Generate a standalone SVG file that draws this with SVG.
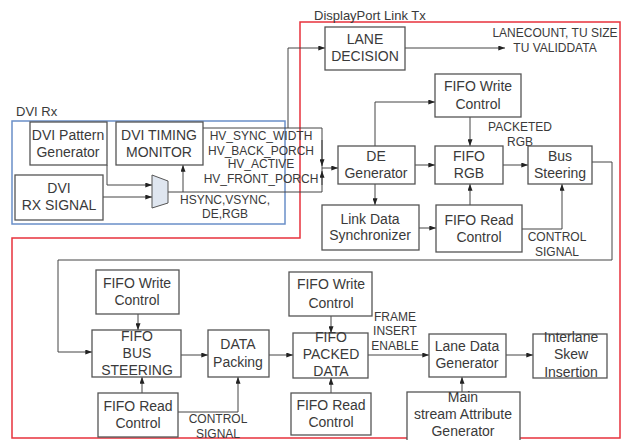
<svg xmlns="http://www.w3.org/2000/svg" width="628" height="440" viewBox="0 0 628 440">
<style>
.box{fill:#fff;stroke:#555;stroke-width:1.3}
.t{font-family:"Liberation Sans",Arial,sans-serif;font-size:14px;fill:#3a3a3a;text-anchor:middle}
.s{font-family:"Liberation Sans",Arial,sans-serif;font-size:12px;fill:#3a3a3a;text-anchor:middle}
.l{font-family:"Liberation Sans",Arial,sans-serif;font-size:13px;fill:#3a3a3a}
.c{fill:none;stroke:#444;stroke-width:1}
.a{marker-end:url(#ah)}
</style>
<defs>
<marker id="ah" viewBox="0 0 8 6" refX="8" refY="3" markerWidth="7" markerHeight="5" orient="auto" markerUnits="userSpaceOnUse">
<path d="M0,0 L8,3 L0,6 Z" fill="#222"/>
</marker>
</defs>
<rect width="628" height="440" fill="#fff"/>
<g id="regions">
<rect x="12" y="121" width="273" height="103" fill="none" stroke="#6a8fc8" stroke-width="1.5"/>
<text class="l" x="16" y="116">DVI Rx</text>
<path d="M300,238 V22 H620 V438 H12 V238 Z" fill="none" stroke="#e8323c" stroke-width="1.5"/>
<text class="l" x="314" y="20">DisplayPort Link Tx</text>
</g>
<g id="connectors">
<path class="c a" d="M107,165 V185 H152"/>
<path class="c a" d="M103,197 H152"/>
<path class="c" d="M168,192 H322 V128 H203"/>
<path class="c a" d="M183,192 V165"/>
<path class="c a" d="M322,140 V166"/>
<path class="c a" d="M322,185 V171"/>
<path class="c a" d="M322,168 H338"/>
<path class="c a" d="M288,128 V48 H325"/>
<path class="c a" d="M405,48 H505"/>
<path class="c a" d="M375,146 V102 H435"/>
<path class="c a" d="M470,117 V146"/>
<path class="c a" d="M415,165 H435"/>
<path class="c a" d="M503,165 H528"/>
<path class="c a" d="M375,184 V205"/>
<path class="c a" d="M419,228 H436"/>
<path class="c a" d="M470,205 V184"/>
<path class="c a" d="M522,229 H562 V184"/>
<path class="c a" d="M592,162 H612 V260 H58 V352 H92"/>
<path class="c a" d="M138,314 V330"/>
<path class="c a" d="M142,393 V377"/>
<path class="c a" d="M181,355 H208"/>
<path class="c a" d="M178,412 H238 V377"/>
<path class="c a" d="M269,355 H293"/>
<path class="c a" d="M331,316 V333"/>
<path class="c a" d="M331,393 V378"/>
<path class="c a" d="M368,355 H429"/>
<path class="c a" d="M506,355 H533"/>
<path class="c a" d="M462,392 V377"/>
</g>
<g id="labels">
<text class="s" x="261" y="140">HV_SYNC_WIDTH</text>
<text class="s" x="261" y="155">HV_BACK_PORCH</text>
<text class="s" x="261" y="168">HV_ACTIVE</text>
<text class="s" x="261" y="183">HV_FRONT_PORCH</text>
<text class="s" x="225" y="204">HSYNC,VSYNC,</text>
<text class="s" x="225" y="218">DE,RGB</text>
<text class="s" x="555" y="37">LANECOUNT, TU SIZE</text>
<text class="s" x="555" y="52">TU VALIDDATA</text>
<text class="s" x="520" y="131">PACKETED</text>
<text class="s" x="520" y="146">RGB</text>
<text class="s" x="557" y="241">CONTROL</text>
<text class="s" x="557" y="256">SIGNAL</text>
<text class="s" x="218" y="423">CONTROL</text>
<text class="s" x="218" y="438">SIGNAL</text>
<text class="s" x="395" y="321">FRAME</text>
<text class="s" x="395" y="335">INSERT</text>
<text class="s" x="395" y="350">ENABLE</text>
</g>
<g id="mux">
<path d="M152,175 L168,181 L168,203 L152,208 Z" fill="#dfe6f0" stroke="#555" stroke-width="1"/>
</g>
<g id="dvi-pattern"><rect class="box" x="30" y="122" width="77" height="43"/><text class="t" x="68" y="140">DVI Pattern</text><text class="t" x="68" y="157">Generator</text></g>
<g id="dvi-timing"><rect class="box" x="116" y="122" width="87" height="43"/><text class="t" x="159" y="140">DVI TIMING</text><text class="t" x="159" y="157">MONITOR</text></g>
<g id="dvi-rx"><rect class="box" x="15" y="175" width="88" height="45"/><text class="t" x="59" y="193">DVI</text><text class="t" x="59" y="210">RX SIGNAL</text></g>
<g id="lane-decision"><rect class="box" x="325" y="27" width="80" height="43"/><text class="t" x="365" y="44">LANE</text><text class="t" x="365" y="61">DECISION</text></g>
<g id="fifo-write-1"><rect class="box" x="435" y="74" width="86" height="43"/><text class="t" x="478" y="91">FIFO Write</text><text class="t" x="478" y="109">Control</text></g>
<g id="de-gen"><rect class="box" x="338" y="146" width="77" height="38"/><text class="t" x="376" y="161">DE</text><text class="t" x="376" y="178">Generator</text></g>
<g id="fifo-rgb"><rect class="box" x="435" y="146" width="68" height="38"/><text class="t" x="469" y="161">FIFO</text><text class="t" x="469" y="178">RGB</text></g>
<g id="bus-steering"><rect class="box" x="528" y="146" width="64" height="38"/><text class="t" x="560" y="161">Bus</text><text class="t" x="560" y="178">Steering</text></g>
<g id="link-data"><rect class="box" x="322" y="205" width="97" height="45"/><text class="t" x="370" y="224">Link Data</text><text class="t" x="370" y="240">Synchronizer</text></g>
<g id="fifo-read-1"><rect class="box" x="436" y="205" width="86" height="47"/><text class="t" x="479" y="225">FIFO Read</text><text class="t" x="479" y="242">Control</text></g>
<g id="fifo-write-2"><rect class="box" x="96" y="270" width="83" height="44"/><text class="t" x="137" y="288">FIFO Write</text><text class="t" x="137" y="305">Control</text></g>
<g id="fifo-bus"><rect class="box" x="92" y="330" width="89" height="47"/><text class="t" x="137" y="341">FIFO</text><text class="t" x="137" y="358">BUS</text><text class="t" x="137" y="375">STEERING</text></g>
<g id="fifo-read-2"><rect class="box" x="98" y="393" width="80" height="44"/><text class="t" x="138" y="411">FIFO Read</text><text class="t" x="138" y="428">Control</text></g>
<g id="data-packing"><rect class="box" x="208" y="330" width="61" height="47"/><text class="t" x="238" y="349">DATA</text><text class="t" x="238" y="367">Packing</text></g>
<g id="fifo-write-3"><rect class="box" x="289" y="272" width="83" height="44"/><text class="t" x="331" y="289">FIFO Write</text><text class="t" x="331" y="308">Control</text></g>
<g id="fifo-packed"><rect class="box" x="293" y="333" width="75" height="45"/><text class="t" x="331" y="342">FIFO</text><text class="t" x="331" y="359">PACKED</text><text class="t" x="331" y="376">DATA</text></g>
<g id="fifo-read-3"><rect class="box" x="291" y="393" width="80" height="42"/><text class="t" x="331" y="410">FIFO Read</text><text class="t" x="331" y="427">Control</text></g>
<g id="lane-data"><rect class="box" x="429" y="334" width="77" height="43"/><text class="t" x="467" y="351">Lane Data</text><text class="t" x="467" y="368">Generator</text></g>
<g id="interlane"><rect class="box" x="533" y="334" width="74" height="44"/><text class="t" x="571" y="342">Interlane</text><text class="t" x="571" y="359">Skew</text><text class="t" x="571" y="377">Insertion</text></g>
<g id="main-stream"><rect class="box" x="407" y="392" width="113" height="50"/><text class="t" x="463" y="402">Main</text><text class="t" x="463" y="419">stream Attribute</text><text class="t" x="463" y="436">Generator</text></g>
</svg>
